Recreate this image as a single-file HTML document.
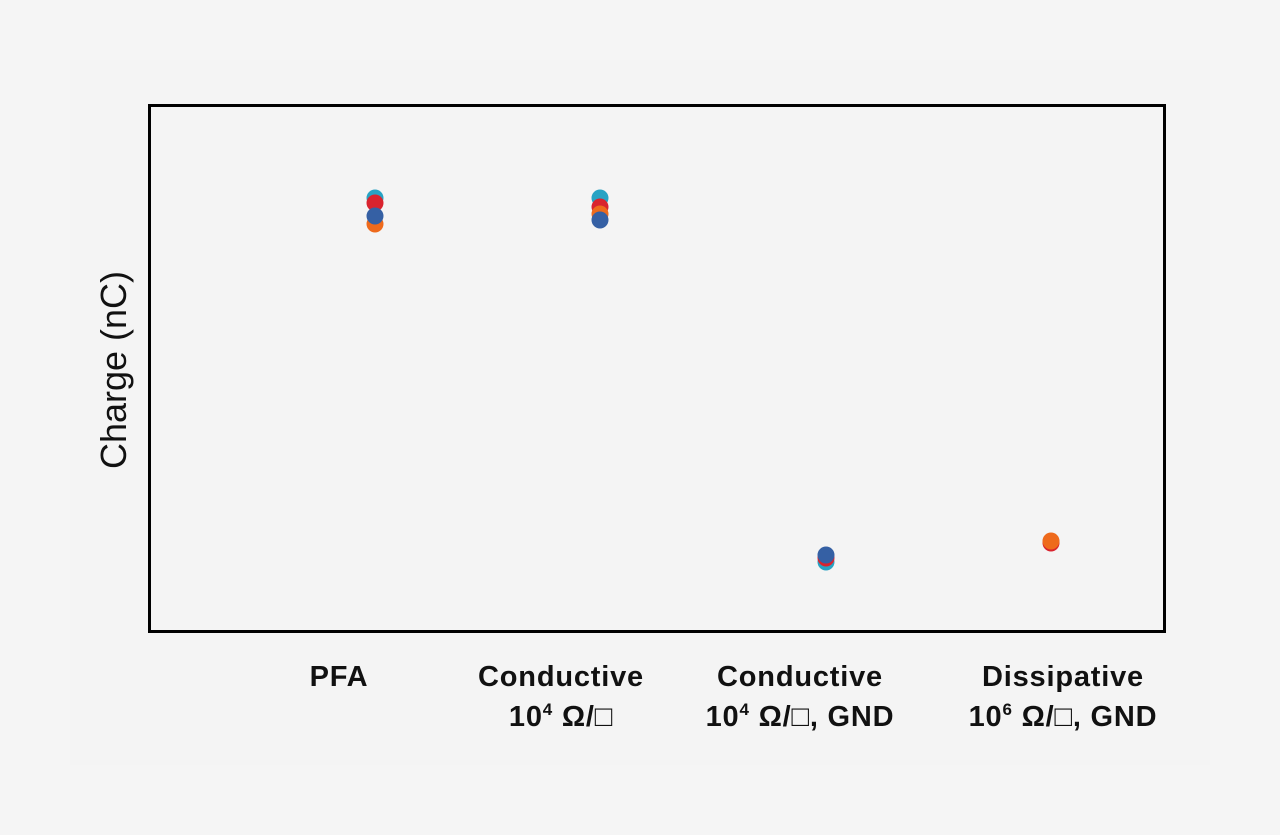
<!DOCTYPE html>
<html><head><style>
body{margin:0;background:#f5f5f5;}
svg{display:block}
text{font-family:"Liberation Sans",sans-serif;}
</style></head><body>
<svg width="1280" height="835" viewBox="0 0 1280 835">
<rect x="70" y="60" width="1140" height="705" fill="#f4f4f4"/>
<rect x="149.5" y="105.5" width="1015" height="526" fill="none" stroke="#000" stroke-width="3"/>
<text transform="translate(126,370) rotate(-90)" text-anchor="middle" font-size="36" fill="#111">Charge (nC)</text>
<g font-size="29" font-weight="bold" fill="#111" text-anchor="middle" letter-spacing="0.8">
<text x="339" y="686">PFA</text>
<text x="561" y="686">Conductive</text>
<text x="561" y="726">10<tspan font-size="17" dy="-11">4</tspan><tspan dy="11"> Ω/□</tspan></text>
<text x="800" y="686">Conductive</text>
<text x="800" y="726">10<tspan font-size="17" dy="-11">4</tspan><tspan dy="11"> Ω/□, GND</tspan></text>
<text x="1063" y="686">Dissipative</text>
<text x="1063" y="726">10<tspan font-size="17" dy="-11">6</tspan><tspan dy="11"> Ω/□, GND</tspan></text>
</g>
<g>
<circle cx="375" cy="198" r="8.5" fill="#27a3c4"/>
<circle cx="375" cy="224" r="8.5" fill="#ee6a1c"/>
<circle cx="375" cy="203" r="8.5" fill="#d9232e"/>
<circle cx="375" cy="216" r="8.5" fill="#3560a4"/>
<circle cx="600" cy="198" r="8.5" fill="#27a3c4"/>
<circle cx="600" cy="207" r="8.5" fill="#d9232e"/>
<circle cx="600" cy="214" r="8.5" fill="#ee6a1c"/>
<circle cx="600" cy="220" r="8.5" fill="#3560a4"/>
<circle cx="826" cy="562" r="8.5" fill="#27a3c4"/>
<circle cx="826" cy="558" r="8.5" fill="#d9232e"/>
<circle cx="826" cy="555" r="8.5" fill="#3560a4"/>
<circle cx="1051" cy="543" r="8.5" fill="#d9232e"/>
<circle cx="1051" cy="541" r="8.5" fill="#ee6a1c"/>
</g>
</svg>
</body></html>
